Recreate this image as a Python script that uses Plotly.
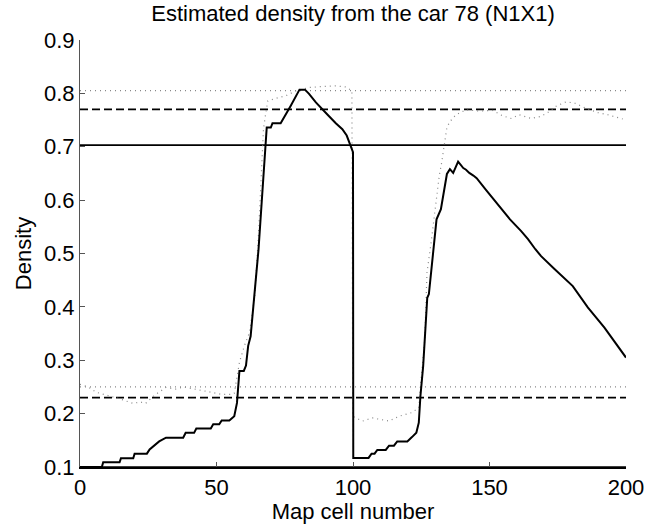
import plotly.graph_objects as go

# Solid curve: estimated density
est_x = [0, 8, 8.5, 14.5, 15, 19.5, 20, 24.5, 25.5, 27, 29, 31.5, 37.8, 38.7, 41.8, 42.6, 47.9,
         48.8, 51, 51.9, 54.7, 56.5, 57.5, 58.4, 60, 60.8, 61.6, 62.5, 63.5, 65.4, 68.4, 69.9,
         70.5, 73.5, 77.2, 79, 80.4, 82.4, 83.9, 86.4, 88.8, 90.7, 93.7, 96.1, 97.7, 99.6, 100,
         100.1, 105.7, 106.8, 107.9, 108.9, 112, 113.2, 115, 116.2, 119.9, 121.6, 123.2, 124.1,
         124.7, 125.7, 126.9, 127.2, 127.8, 129.5, 130.6, 132.2, 133.4, 134.4, 135.5, 136.7,
         138.5, 140.4, 141.4, 142.6, 144.1, 145.3, 148.7, 151.2, 157.5, 161.6, 164.1, 166.8,
         168.9, 173.8, 180.5, 186, 192.1, 200]
est_y = [0.1, 0.1, 0.109, 0.109, 0.1165, 0.1165, 0.125, 0.125, 0.133, 0.14, 0.148, 0.155, 0.155,
         0.164, 0.164, 0.172, 0.172, 0.18, 0.18, 0.187, 0.187, 0.195, 0.22, 0.28, 0.28, 0.29,
         0.327, 0.345, 0.402, 0.508, 0.736, 0.736, 0.744, 0.744, 0.777, 0.793, 0.807, 0.807,
         0.799, 0.783, 0.771, 0.76, 0.744, 0.733, 0.721, 0.692, 0.69, 0.117, 0.117, 0.125,
         0.125, 0.132, 0.132, 0.14, 0.14, 0.148, 0.148, 0.156, 0.164, 0.183, 0.233, 0.289,
         0.402, 0.417, 0.424, 0.508, 0.564, 0.583, 0.621, 0.649, 0.658, 0.651, 0.672, 0.66,
         0.657, 0.651, 0.646, 0.641, 0.619, 0.603, 0.564, 0.542, 0.527, 0.508, 0.495, 0.471,
         0.439, 0.399, 0.361, 0.305]

# Dotted curve
ref_x = [0, 3, 6, 9, 12, 15, 19.5, 22, 24, 27.7, 31.5, 35, 38, 41, 45, 48, 52, 55, 56.5, 58.4,
         60.2, 62.1, 64, 65.3, 66.6, 67.2, 67.9, 68.8, 71.9, 75.6, 79.2, 84, 88.9, 93.7, 97.4,
         99.6, 99.9, 103.5, 107.1, 113.2, 116.8, 121.6, 124.1, 124.7, 126.3, 127.1, 128.6,
         131.6, 132.5, 133.4, 134.3, 135.3, 137.7, 141.4, 146.3, 151.2, 154.8, 157.9, 160.9,
         165.2, 168.9, 171.3, 174.4, 178, 181.1, 185.4, 189.7, 193.3, 198.8]
ref_y = [0.255, 0.25, 0.24, 0.236, 0.232, 0.227, 0.219, 0.222, 0.219, 0.236, 0.249, 0.246, 0.25,
         0.247, 0.242, 0.24, 0.236, 0.236, 0.238, 0.296, 0.327, 0.352, 0.42, 0.527, 0.671,
         0.733, 0.758, 0.786, 0.791, 0.796, 0.805, 0.811, 0.813, 0.814, 0.812, 0.805, 0.195,
         0.186, 0.192, 0.186, 0.195, 0.202, 0.211, 0.252, 0.339, 0.464, 0.52, 0.646, 0.671,
         0.705, 0.733, 0.746, 0.76, 0.769, 0.767, 0.768, 0.758, 0.753, 0.76, 0.753, 0.757,
         0.764, 0.776, 0.784, 0.782, 0.772, 0.764, 0.76, 0.752]

# Threshold levels
dotted_levels = [0.805, 0.25]
dashed_levels = [0.77, 0.23]
solid_levels = [0.703, 0.1]
x_span = [0, 200]

x_ticks = [0, 50, 100, 150, 200]
y_ticks = [0.1, 0.2, 0.3, 0.4, 0.5, 0.6, 0.7, 0.8, 0.9]

FONT = "Liberation Sans, Arial, sans-serif"

fig = go.Figure()
for lv in dotted_levels:
    fig.add_trace(go.Scatter(x=x_span, y=[lv, lv], mode="lines",
                             line=dict(color="#888888", width=1.2, dash="1px,4px"),
                             hoverinfo="skip"))
for lv in dashed_levels:
    fig.add_trace(go.Scatter(x=x_span, y=[lv, lv], mode="lines",
                             line=dict(color="black", width=1.8, dash="8px,4px"),
                             hoverinfo="skip"))
for lv in solid_levels:
    fig.add_trace(go.Scatter(x=x_span, y=[lv, lv], mode="lines",
                             line=dict(color="black", width=1.6),
                             hoverinfo="skip"))
fig.add_trace(go.Scatter(x=ref_x, y=ref_y, mode="lines",
                         line=dict(color="#888888", width=1.2, dash="1px,4px")))
fig.add_trace(go.Scatter(x=est_x, y=est_y, mode="lines",
                         line=dict(color="black", width=2)))

fig.update_layout(
    width=645, height=524,
    margin=dict(l=80, r=19, t=40, b=57, autoexpand=False),
    paper_bgcolor="white", plot_bgcolor="white",
    showlegend=False,
    font=dict(family=FONT, size=22, color="black"),
    title=dict(text="Estimated density from the car 78 (N1X1)",
               font=dict(family=FONT, size=22, color="black"),
               x=0.5, xref="paper", xanchor="center",
               y=1 - 13 / 524, yref="container", yanchor="middle", automargin=False),
    xaxis=dict(range=[0, 200], tickvals=x_ticks, ticktext=[str(v) for v in x_ticks],
               showgrid=False, zeroline=False, showline=True, linecolor="black",
               linewidth=2, ticks="inside", ticklen=5, tickcolor="#555555",
               automargin=False,
               tickfont=dict(size=22), title=dict(text="Map cell number", standoff=0,
                                                   font=dict(size=22))),
    yaxis=dict(range=[0.1, 0.9], tickvals=y_ticks, ticktext=[f"{v:.1f}" for v in y_ticks],
               showgrid=False, zeroline=False, showline=True, linecolor="#555555",
               linewidth=1, ticks="inside", ticklen=5, tickcolor="#555555",
               automargin=False,
               tickfont=dict(size=22), title=dict(text="Density", standoff=6,
                                                   font=dict(size=22))),
)

fig.write_html("out.html")
